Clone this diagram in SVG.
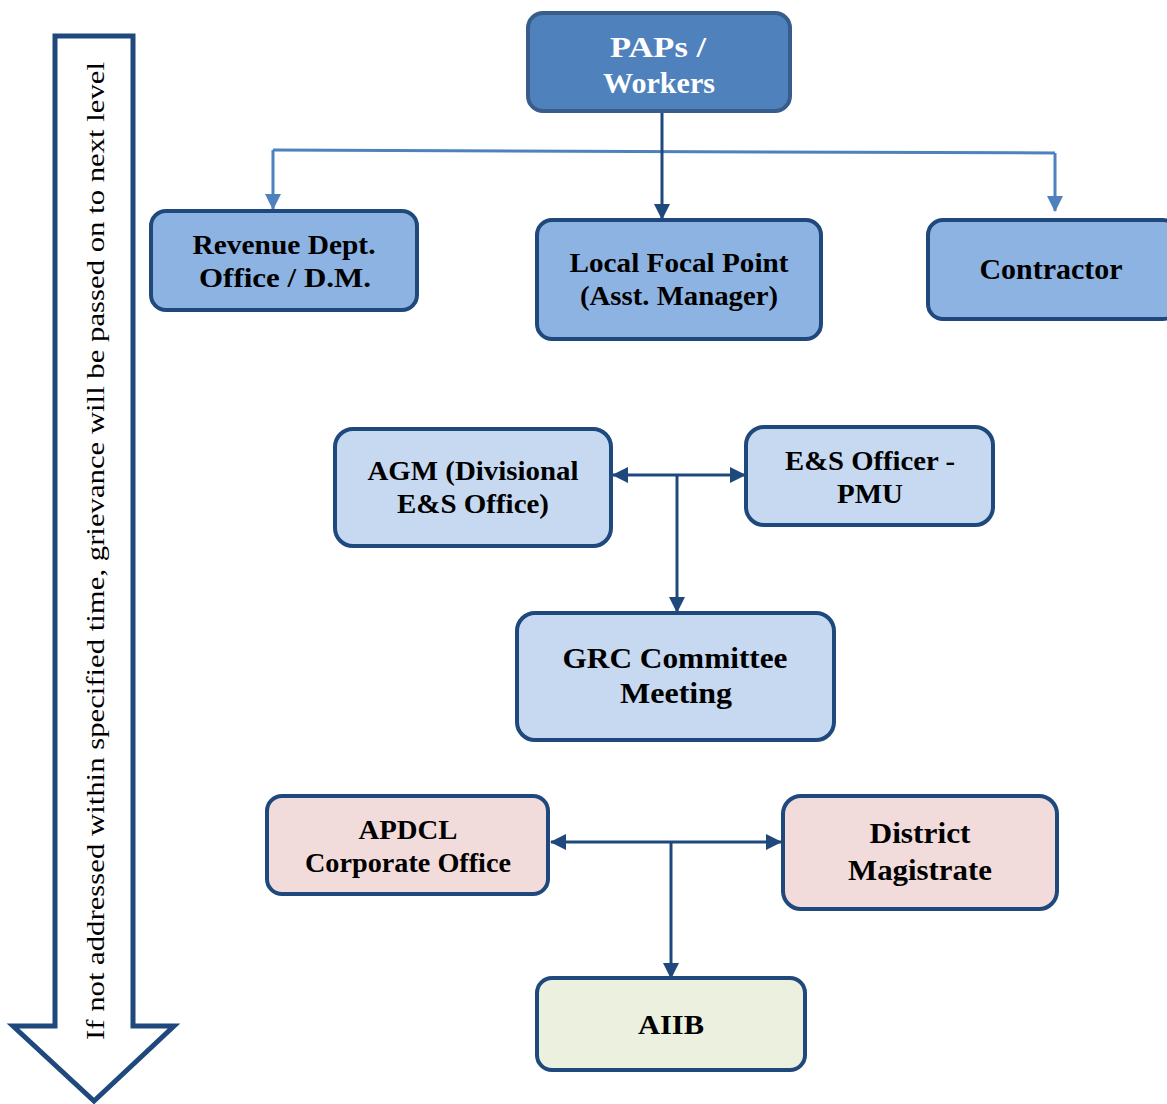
<svg xmlns="http://www.w3.org/2000/svg" width="1167" height="1104" viewBox="0 0 1167 1104">
  <style>
    .box { stroke: #1F497D; stroke-width: 4; }
    .top { fill: #4F81BD; stroke: #385D8A; stroke-width: 4; }
    .mid { fill: #8DB3E2; }
    .light { fill: #C6D9F1; }
    .pink { fill: #F2DCDB; }
    .green { fill: #EBF1DE; }
    .lbl { font-family: "Liberation Serif", "Times New Roman", serif; font-weight: bold; font-size: 27px; fill: #000; text-anchor: middle; }
    .big { font-size: 29px; }
    .white { fill: #fff; }
    .dark { fill: none; stroke: #1F497D; stroke-width: 3; }
    .blue { fill: none; stroke: #4F81BD; stroke-width: 3; }
  </style>
  <defs>
    <marker id="ah-dark" markerUnits="userSpaceOnUse" markerWidth="16" markerHeight="16" viewBox="0 0 16 16" refX="15" refY="8" orient="auto-start-reverse">
      <path d="M0,0 L16,8 L0,16 z" fill="#1F497D"/>
    </marker>
    <marker id="ah-blue" markerUnits="userSpaceOnUse" markerWidth="16" markerHeight="16" viewBox="0 0 16 16" refX="15" refY="8" orient="auto-start-reverse">
      <path d="M0,0 L16,8 L0,16 z" fill="#4F81BD"/>
    </marker>
  </defs>

  <!-- escalation arrow on the left -->
  <g id="escalation">
    <path d="M55,36 L133,36 L133,1026 L174,1026 L94,1101 L13,1026 L55,1026 Z" fill="#fff" stroke="#1F497D" stroke-width="5" stroke-linejoin="miter"/>
    <text transform="translate(104,1040) rotate(-90)" font-family="Liberation Serif, Times New Roman, serif" font-size="26" fill="#000" textLength="978" lengthAdjust="spacingAndGlyphs">If not addressed within specified time, grievance will be passed on to next level</text>
  </g>

  <!-- connectors -->
  <g id="connectors">
    <path class="blue" d="M273,150 L1055,153"/>
    <path class="blue" d="M273,150 L273,209" marker-end="url(#ah-blue)"/>
    <path class="blue" d="M1055,153 L1055,211" marker-end="url(#ah-blue)"/>
    <path class="dark" d="M662,111 L662,219" marker-end="url(#ah-dark)"/>
    <path class="dark" d="M613,475 L745,475" marker-start="url(#ah-dark)" marker-end="url(#ah-dark)"/>
    <path class="dark" d="M677,475 L677,612" marker-end="url(#ah-dark)"/>
    <path class="dark" d="M551,842 L781,842" marker-start="url(#ah-dark)" marker-end="url(#ah-dark)"/>
    <path class="dark" d="M671,842 L671,978" marker-end="url(#ah-dark)"/>
  </g>

  <g id="paps">
    <rect class="top" x="528" y="13" width="262" height="98" rx="15"/>
    <text class="lbl big white" x="658" y="57" textLength="96" lengthAdjust="spacingAndGlyphs">PAPs /</text>
    <text class="lbl big white" x="659" y="93" textLength="112" lengthAdjust="spacingAndGlyphs">Workers</text>
  </g>

  <g id="revenue">
    <rect class="box mid" x="151" y="211" width="266" height="99" rx="15"/>
    <text class="lbl" x="284" y="254" textLength="183" lengthAdjust="spacingAndGlyphs">Revenue Dept.</text>
    <text class="lbl" x="285" y="287" textLength="172" lengthAdjust="spacingAndGlyphs">Office / D.M.</text>
  </g>

  <g id="focal-point">
    <rect class="box mid" x="537" y="220" width="284" height="119" rx="15"/>
    <text class="lbl" x="679" y="272" textLength="219" lengthAdjust="spacingAndGlyphs">Local Focal Point</text>
    <text class="lbl" x="679" y="305" textLength="198" lengthAdjust="spacingAndGlyphs">(Asst. Manager)</text>
  </g>

  <g id="contractor">
    <rect class="box mid" x="928" y="220" width="250" height="99" rx="15"/>
    <text class="lbl big" x="1051" y="279" textLength="143" lengthAdjust="spacingAndGlyphs">Contractor</text>
  </g>

  <g id="agm">
    <rect class="box light" x="335" y="429" width="276" height="117" rx="18"/>
    <text class="lbl" x="473" y="480" textLength="211" lengthAdjust="spacingAndGlyphs">AGM (Divisional</text>
    <text class="lbl" x="473" y="513" textLength="152" lengthAdjust="spacingAndGlyphs">E&amp;S Office)</text>
  </g>

  <g id="es-officer">
    <rect class="box light" x="746" y="427" width="247" height="98" rx="18"/>
    <text class="lbl" x="870" y="470" textLength="170" lengthAdjust="spacingAndGlyphs">E&amp;S Officer -</text>
    <text class="lbl" x="870" y="503" textLength="66" lengthAdjust="spacingAndGlyphs">PMU</text>
  </g>

  <g id="grc">
    <rect class="box light" x="517" y="613" width="317" height="127" rx="18"/>
    <text class="lbl big" x="675" y="668" textLength="225" lengthAdjust="spacingAndGlyphs">GRC Committee</text>
    <text class="lbl big" x="676" y="703" textLength="112" lengthAdjust="spacingAndGlyphs">Meeting</text>
  </g>

  <g id="apdcl">
    <rect class="box pink" x="267" y="796" width="281" height="98" rx="15"/>
    <text class="lbl" x="408" y="839" textLength="99" lengthAdjust="spacingAndGlyphs">APDCL</text>
    <text class="lbl" x="408" y="872" textLength="206" lengthAdjust="spacingAndGlyphs">Corporate Office</text>
  </g>

  <g id="district-magistrate">
    <rect class="box pink" x="783" y="796" width="274" height="113" rx="18"/>
    <text class="lbl big" x="920" y="843" textLength="101" lengthAdjust="spacingAndGlyphs">District</text>
    <text class="lbl big" x="920" y="880" textLength="144" lengthAdjust="spacingAndGlyphs">Magistrate</text>
  </g>

  <g id="aiib">
    <rect class="box green" x="537" y="978" width="268" height="92" rx="15"/>
    <text class="lbl" x="671" y="1034" textLength="66" lengthAdjust="spacingAndGlyphs">AIIB</text>
  </g>
</svg>
